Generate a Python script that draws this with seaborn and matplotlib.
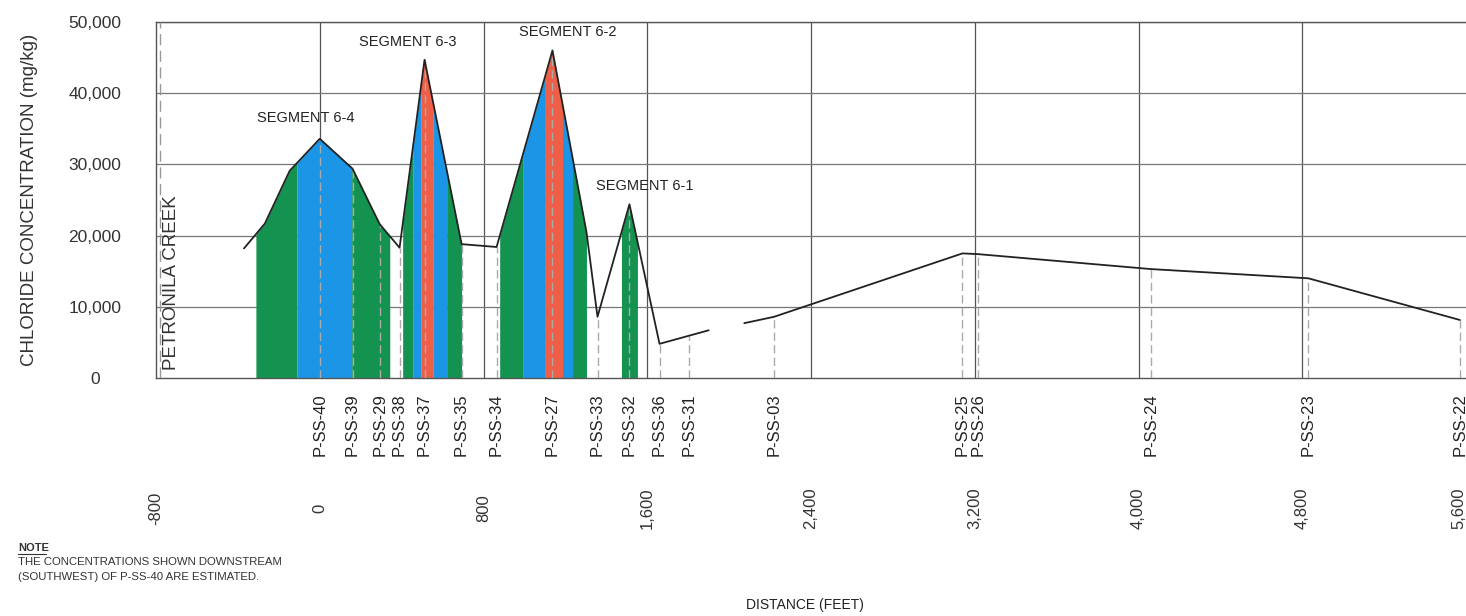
import numpy as np
import pandas as pd
import matplotlib
matplotlib.use("Agg")
import matplotlib.pyplot as plt
import seaborn as sns

# profile along the creek (two reaches, gap between them)
reach1_ft = [-370, -268, -147, 0, 160, 293, 390, 512, 693, 864, 1137, 1303, 1357, 1513, 1660, 1900]
reach1_conc = [18200, 21700, 29100, 33600, 29400, 21600, 18300, 44700, 18800, 18400, 46000, 20500, 8600, 24400, 4800, 6700]
reach2_ft = [2074, 2220, 3140, 3215, 4060, 4830, 5570]
reach2_conc = [7700, 8600, 17500, 17400, 15300, 14000, 8150]

# sample locations
sample_names = ["P-SS-40", "P-SS-39", "P-SS-29", "P-SS-38", "P-SS-37", "P-SS-35", "P-SS-34",
                "P-SS-27", "P-SS-33", "P-SS-32", "P-SS-36", "P-SS-31", "P-SS-03", "P-SS-25",
                "P-SS-26", "P-SS-24", "P-SS-23", "P-SS-22"]
sample_ft = [0, 160, 293, 390, 512, 693, 864, 1137, 1357, 1513, 1660, 1805, 2220, 3140,
             3215, 4060, 4830, 5570]

# coloured bands under the profile (start, end, class)
band_start = [-312, -112, 156, 405, 454, 493, 552, 620, 879, 991, 1098, 1186, 1235, 1474]
band_end = [-112, 156, 342, 454, 493, 552, 620, 693, 991, 1098, 1186, 1235, 1303, 1552]
band_class = ["g", "b", "g", "g", "b", "r", "b", "g", "g", "b", "r", "b", "g", "g"]

segment_names = ["SEGMENT 6-4", "SEGMENT 6-3", "SEGMENT 6-2", "SEGMENT 6-1"]
segment_x = [-68, 430, 1210, 1586]
segment_y = [36500, 47200, 48600, 27000]

dist_ticks = [-800, 0, 800, 1600, 2400, 3200, 4000, 4800, 5600]
conc_ticks = [0, 10000, 20000, 30000, 40000, 50000]

band_colors = {"g": "#14924f", "b": "#1b96e6", "r": "#ef5f48"}

sns.set_theme(style="white")
plt.rcParams["font.family"] = ["Liberation Sans", "DejaVu Sans"]

df = pd.DataFrame({
    "ft": reach1_ft + reach2_ft,
    "conc": reach1_conc + reach2_conc,
    "reach": [1] * len(reach1_ft) + [2] * len(reach2_ft),
})

fig = plt.figure(figsize=(14.66, 6.16), dpi=100)
ax = fig.add_axes([156 / 1466, 1 - 378 / 616, 1 - 156 / 1466, 356 / 616])

# grid
for x in dist_ticks[1:-1]:
    ax.axvline(x, color="#555555", lw=0.9, zorder=1)
for y in conc_ticks[1:]:
    ax.axhline(y, color="#777777", lw=0.9, zorder=1)

# coloured bands
for s, e, c in zip(band_start, band_end, band_class):
    xs = np.linspace(s, e, 60)
    ys = np.interp(xs, reach1_ft, reach1_conc)
    ax.fill_between(xs, 0, ys, color=band_colors[c], lw=0, zorder=2)

# dashed sample lines
all_ft = reach1_ft + reach2_ft
all_conc = reach1_conc + reach2_conc
sample_conc = np.interp(sample_ft, all_ft, all_conc)
for x, h in zip(sample_ft, sample_conc):
    ax.plot([x, x], [0, h], color="#aaaaaa", lw=1.0, ls=(0, (6, 3)), zorder=3)

sns.lineplot(data=df, x="ft", y="conc", units="reach", estimator=None,
             color="#222222", lw=1.3, ax=ax, zorder=4, legend=False)

# Petronila Creek marker
ax.plot([-780, -780], [0, 50000], color="#999999", lw=1.0, ls=(0, (8, 4)), zorder=3)
ax.text(-723, 1100, "PETRONILA CREEK", rotation=90, ha="center", va="bottom",
        fontsize=13.5, color="#333333")

for name, x, y in zip(segment_names, segment_x, segment_y):
    ax.text(x, y, name, ha="center", va="center", fontsize=10.5, color="#222222", zorder=5)

# sample labels below the axis
for name, x in zip(sample_names, sample_ft):
    ax.text(x, -0.042, name, transform=ax.get_xaxis_transform(), rotation=90,
            ha="center", va="top", fontsize=12, color="#222222", clip_on=False)

ax.set_xlim(-800, 5600)
ax.set_ylim(0, 50000)
ax.set_xticks(dist_ticks)
# last label is drawn separately so it stays inside the picture
tick_text = [f"{v:,}" for v in dist_ticks]
ax.set_xticklabels(tick_text[:-1] + [""], rotation=90, fontsize=12, color="#333333")
for lab in ax.get_xticklabels():
    lab.set_verticalalignment("center")
ax.text(dist_ticks[-1], -(94 / 72 * 100) / 356, tick_text[-1], transform=ax.get_xaxis_transform(),
        rotation=90, ha="right", va="center", fontsize=12, color="#333333", clip_on=False)
ax.set_yticks(conc_ticks)
ax.set_yticklabels([f"{v:,}" for v in conc_ticks], fontsize=12.5, color="#333333")
for lab in ax.get_yticklabels():
    lab.set_horizontalalignment("center")
ax.tick_params(axis="x", length=0, pad=94)
ax.tick_params(axis="y", length=0, pad=44)
ax.set_xlabel("")
ax.set_ylabel("")

for side in ["left", "top", "bottom"]:
    ax.spines[side].set_color("#555555")
    ax.spines[side].set_linewidth(1.0)
ax.spines["right"].set_visible(False)

fig.text(30 / 1466, 1 - 200 / 616, "CHLORIDE CONCENTRATION (mg/kg)", rotation=90,
         ha="center", va="center", fontsize=13.5, color="#333333")
fig.text(805 / 1466, 1 - 605 / 616, "DISTANCE (FEET)", ha="center", va="center",
         fontsize=10, color="#222222")

note_family = ["Liberation Sans Narrow", "Liberation Sans", "DejaVu Sans"]
fig.text(18 / 1466, 1 - 548 / 616, "NOTE", ha="left", va="center", fontsize=8,
         fontweight="bold", color="#333333", family=note_family)
fig.add_artist(plt.Line2D([18 / 1466, 46 / 1466], [1 - 554 / 616, 1 - 554 / 616],
                          color="#333333", lw=0.8))
fig.text(18 / 1466, 1 - 562 / 616, "THE CONCENTRATIONS SHOWN DOWNSTREAM", ha="left",
         va="center", fontsize=8.2, color="#333333", family=note_family)
fig.text(18 / 1466, 1 - 577 / 616, "(SOUTHWEST) OF P-SS-40 ARE ESTIMATED.", ha="left",
         va="center", fontsize=8.2, color="#333333", family=note_family)

fig.savefig("out.png", dpi=100)
